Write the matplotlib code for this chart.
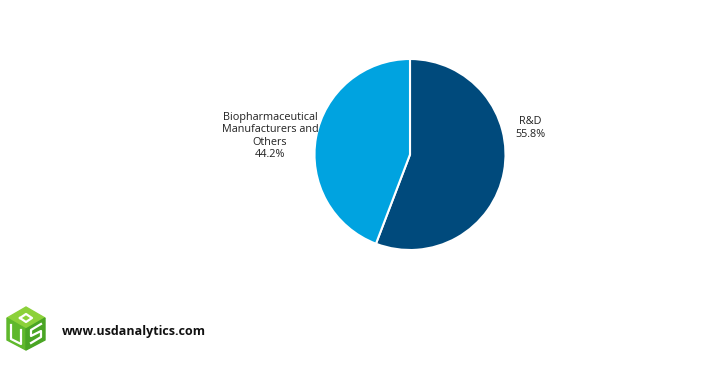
import matplotlib.pyplot as plt
from matplotlib.patches import Polygon

# data
segmentos = ['R&D', 'Biopharmaceutical\nManufacturers and\nOthers']
valores = [55.8, 44.2]
cores = ['#004A7C', '#00A3E0']

W, H = 709, 381
fig = plt.figure(figsize=(W / 100, H / 100), dpi=100)
plt.rcParams['font.family'] = ['Open Sans', 'DejaVu Sans']

# pie axes, center ~ (410, 154), radius ~ 95 px
cx, cy, r = 410, 154.5, 95.5
ax = fig.add_axes([(cx - r) / W, 1 - (cy + r) / H, 2 * r / W, 2 * r / H])
ax.pie(valores, colors=cores, startangle=90, counterclock=False,
       wedgeprops=dict(edgecolor='white', linewidth=1.5))
ax.set_xlim(-1, 1)
ax.set_ylim(-1, 1)
ax.axis('off')

# labels
fig.text(530 / W, 1 - 128 / H, '%s\n%.1f%%' % (segmentos[0], valores[0]),
         ha='center', va='center', fontsize=7.8, color='#222222', linespacing=1.2)
fig.text(270 / W, 1 - 136 / H, '%s\n%.1f%%' % (segmentos[1], valores[1]),
         ha='center', va='center', fontsize=7.8, color='#222222', linespacing=1.2)

# logo (cubo verde)
lax = fig.add_axes([0, 0, 1, 1], zorder=-1)
lax.set_xlim(0, W)
lax.set_ylim(H, 0)
lax.axis('off')
topo = [(26, 307), (45, 318), (26, 329), (7, 318)]
esq = [(7, 318), (26, 329), (26, 350), (7, 340)]
dir_ = [(26, 329), (45, 318), (45, 340), (26, 350)]
lax.add_patch(Polygon(topo, closed=True, color='#8CD13A'))
lax.add_patch(Polygon(esq, closed=True, color='#5FB82C'))
lax.add_patch(Polygon(dir_, closed=True, color='#4AA524'))
# letras "U" e "S" em branco
lax.plot([11, 11, 21, 21], [325, 339, 344, 330], color='white', lw=1.6)
lax.plot([41, 31, 31, 41, 41, 31], [324, 330, 336, 331, 337, 343], color='white', lw=1.6)
lax.plot([20, 26, 32, 26, 20], [318, 314, 318, 322, 318], color='white', lw=1.6)

fig.text(62 / W, 1 - 331 / H, 'www.usdanalytics.com', ha='left', va='center',
         fontsize=9, fontweight='bold', color='#111111')

fig.savefig('out.png', dpi=100, facecolor='white')
